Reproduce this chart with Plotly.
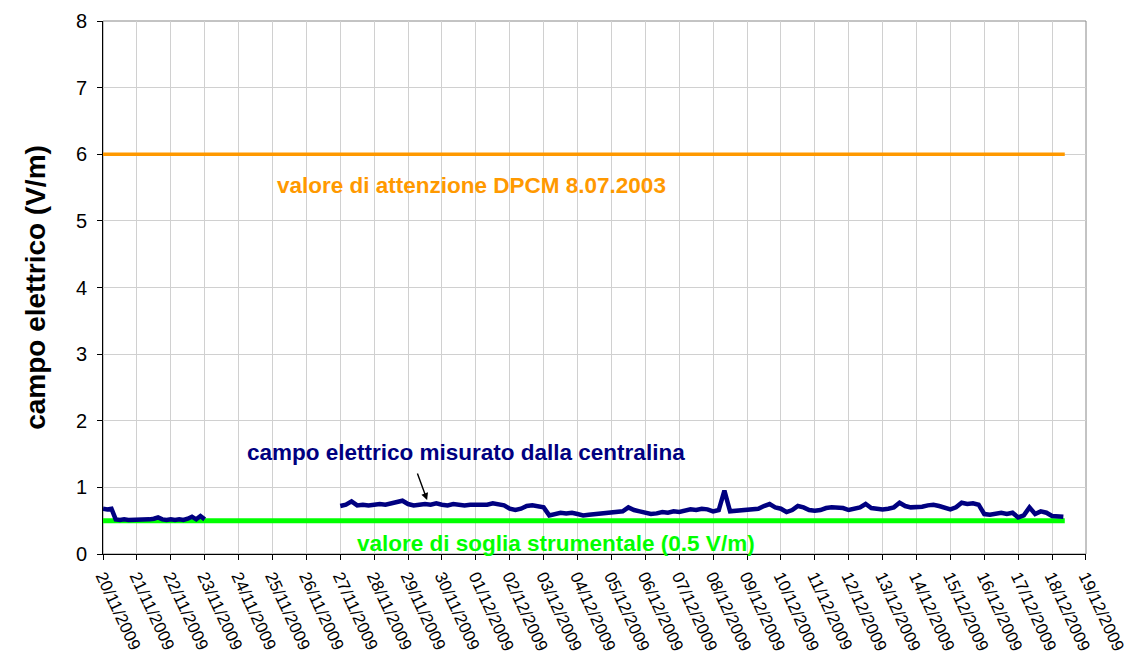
import pandas as pd
import plotly.graph_objects as go

# ---- data ----
seg1_start = "2009-11-20 00:00"
seg1_step_h = 3
seg1_values = [0.68, 0.67, 0.68, 0.52, 0.51, 0.52, 0.51, 0.51,
               0.52, 0.51, 0.51, 0.52, 0.53, 0.55, 0.52, 0.51,
               0.52, 0.51, 0.52, 0.51, 0.53, 0.56, 0.52, 0.57,
               0.52]

seg2_start = "2009-11-27 00:00"
seg2_step_h = 4
seg2_values = [
    0.72, 0.74, 0.79, 0.73, 0.74, 0.73,   # 27/11
    0.74, 0.75, 0.74, 0.76, 0.79, 0.80,   # 28/11
    0.75, 0.73, 0.74, 0.75, 0.74, 0.76,   # 29/11
    0.74, 0.73, 0.75, 0.74, 0.73, 0.74,   # 30/11
    0.74, 0.75, 0.74, 0.76, 0.75, 0.73,   # 01/12
    0.68, 0.66, 0.68, 0.72, 0.73, 0.72,   # 02/12
    0.70, 0.58, 0.60, 0.62, 0.61, 0.62,   # 03/12
    0.60, 0.58, 0.59, 0.60, 0.61, 0.62,   # 04/12
    0.62, 0.63, 0.64, 0.70, 0.66, 0.64,   # 05/12
    0.62, 0.60, 0.61, 0.63, 0.62, 0.64,   # 06/12
    0.63, 0.65, 0.67, 0.66, 0.68, 0.67,   # 07/12
    0.64, 0.66, 0.95, 0.64, 0.65, 0.66,   # 08/12
    0.66, 0.67, 0.68, 0.72, 0.75, 0.70,   # 09/12
    0.68, 0.63, 0.66, 0.72, 0.70, 0.66,   # 10/12
    0.65, 0.66, 0.69, 0.70, 0.70, 0.69,   # 11/12
    0.66, 0.68, 0.70, 0.75, 0.69, 0.68,   # 12/12
    0.67, 0.68, 0.70, 0.77, 0.72, 0.70,   # 13/12
    0.70, 0.71, 0.73, 0.74, 0.72, 0.70,   # 14/12
    0.67, 0.70, 0.77, 0.75, 0.76, 0.74,   # 15/12
    0.60, 0.59, 0.61, 0.62, 0.60, 0.62,   # 16/12
    0.55, 0.58, 0.70, 0.60, 0.64, 0.62,   # 17/12
    0.57, 0.56, 0.56,                     # 18/12
]

limit_dates = ["2009-11-20 00:00", "2009-12-18 09:00"]
attention_values = [6, 6]
threshold_values = [0.5, 0.5]

tick_dates = pd.date_range("2009-11-20", "2009-12-19", freq="D")
tick_labels = [d.strftime("%d/%m/%Y") for d in tick_dates]

seg1_x = pd.date_range(seg1_start, periods=len(seg1_values), freq=f"{seg1_step_h}h")
seg2_x = pd.date_range(seg2_start, periods=len(seg2_values), freq=f"{seg2_step_h}h")

x_all = list(seg1_x) + [None] + list(seg2_x)
y_all = seg1_values + [None] + seg2_values

FONT = "Liberation Sans, Arial, sans-serif"

fig = go.Figure()
fig.add_trace(go.Scatter(x=limit_dates, y=attention_values, mode="lines",
                         line=dict(color="#ff9900", width=3.5), hoverinfo="skip"))
fig.add_trace(go.Scatter(x=limit_dates, y=threshold_values, mode="lines",
                         line=dict(color="#00ff00", width=5), hoverinfo="skip"))
fig.add_trace(go.Scatter(x=x_all, y=y_all, mode="lines", connectgaps=False,
                         line=dict(color="#000080", width=4.5)))

fig.add_shape(type="rect", xref="paper", yref="paper", x0=0, y0=0, x1=1, y1=1,
              line=dict(color="#888888", width=1), layer="below")

fig.add_annotation(x="2009-11-30 20:40", y=5.53, text="<b>valore di attenzione DPCM 8.07.2003</b>",
                   showarrow=False, font=dict(family=FONT, size=22.5, color="#ff9900"))
fig.add_annotation(x="2009-11-30 17:00", y=1.52, text="<b>campo elettrico misurato dalla centralina</b>",
                   showarrow=False, font=dict(family=FONT, size=22.5, color="#000080"))
fig.add_annotation(x="2009-12-03 09:00", y=0.165, text="<b>valore di soglia strumentale (0.5 V/m)</b>",
                   showarrow=False, font=dict(family=FONT, size=22.5, color="#00ff00"))
fig.add_annotation(x="2009-11-29 13:30", y=0.81, ax="2009-11-29 06:15", ay=1.23,
                   axref="x", ayref="y", text="", showarrow=True,
                   arrowhead=2, arrowsize=1, arrowwidth=1.4, arrowcolor="black")

fig.update_layout(
    width=1130, height=658,
    margin=dict(l=103, r=44, t=21, b=104),
    paper_bgcolor="white", plot_bgcolor="white",
    showlegend=False,
    font=dict(family=FONT, color="black"),
)
fig.update_xaxes(
    range=["2009-11-20", "2009-12-19 00:02"],
    tickmode="array", tickvals=tick_dates, ticktext=tick_labels,
    tickangle=65, tickfont=dict(size=17, family=FONT),
    automargin=False, ticklabeloverflow="allow",
    showgrid=True, gridcolor="#d0d0d0", gridwidth=1,
    showline=True, linecolor="black", linewidth=1,
    ticks="outside", ticklen=5, tickcolor="black",
    zeroline=False,
)
fig.update_yaxes(
    range=[0, 8], dtick=1,
    tickfont=dict(size=20, family=FONT),
    ticklabelstandoff=6,
    automargin=False,
    showgrid=True, gridcolor="#d0d0d0", gridwidth=1,
    showline=True, linecolor="black", linewidth=1,
    ticks="outside", ticklen=5, tickcolor="black",
    zeroline=False,
    title=dict(text="<b>campo elettrico (V/m)</b>", font=dict(size=28, family=FONT), standoff=22),
)

fig.write_html("out.html", config={"displayModeBar": False},
               post_script="document.body.style.margin='0';document.body.style.padding='0';")
